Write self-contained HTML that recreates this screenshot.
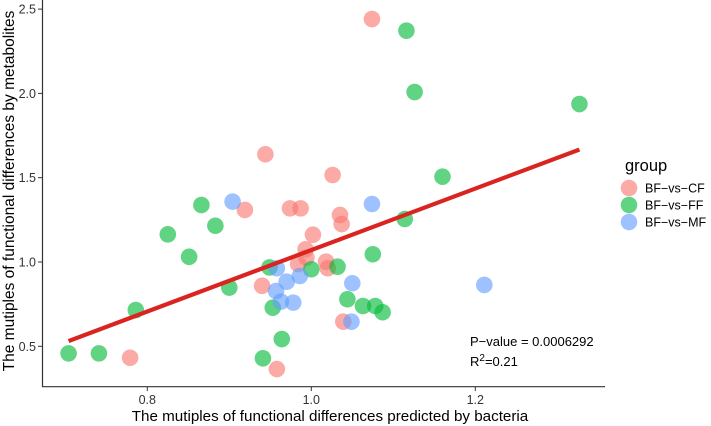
<!DOCTYPE html>
<html><head><meta charset="utf-8"><style>
body{margin:0;background:#fff}
svg{display:block;font-family:"Liberation Sans",Arial,sans-serif}
</style></head><body>
<svg width="711" height="426" viewBox="0 0 711 426">
<g id="points"></g>
<g id="fit"></g>
<line x1="42.5" y1="0" x2="42.5" y2="387" stroke="#333" stroke-width="1.2"/>
<line x1="42" y1="386.7" x2="605" y2="386.7" stroke="#333" stroke-width="1.2"/>
<g id="xticks"></g>
<g id="yticks"></g>
<text x="330" y="421" font-size="15.2" text-anchor="middle" fill="#000">The mutiples of functional differences predicted by bacteria</text>
<text transform="translate(14,191) rotate(-90)" font-size="15.5" text-anchor="middle" fill="#000">The mutiples of functional differences by metabolites</text>
<text x="470" y="346" font-size="13" fill="#000">P−value = 0.0006292</text>
<text x="470" y="366" font-size="13" fill="#000">R<tspan dy="-5" font-size="10">2</tspan><tspan dy="5">=0.21</tspan></text>
<g>
<text x="625" y="171" font-size="16.5" fill="#000">group</text>
<g id="legend-items"></g>
</g>
</svg>
<script>
const groups=["BF-vs-CF","BF-vs-FF","BF-vs-MF"];
const colors=["#F8766D","#00BA38","#619CFF"];
const cfX=[0.944,1.026,0.919,0.974,0.987,1.035,1.037,1.002,0.993,0.994,0.984,1.018,1.020,0.940,1.039,0.779,0.958,1.074];
const cfY=[1.639,1.516,1.309,1.318,1.318,1.279,1.225,1.162,1.075,1.026,0.988,1.002,0.963,0.859,0.646,0.432,0.365,2.441];
const ffX=[0.704,0.741,0.786,0.825,0.851,0.866,0.883,0.900,0.949,0.953,0.941,0.964,1.000,1.032,1.044,1.063,1.078,1.087,1.075,1.114,1.160,1.126,1.116,1.327];
const ffY=[0.458,0.458,0.715,1.164,1.031,1.338,1.215,0.848,0.968,0.729,0.429,0.543,0.957,0.972,0.779,0.739,0.739,0.702,1.046,1.255,1.506,2.008,2.372,1.937];
const mfX=[0.904,0.958,0.957,0.970,0.986,0.963,0.978,1.050,1.049,1.074,1.211];
const mfY=[1.358,0.963,0.828,0.883,0.917,0.765,0.759,0.874,0.646,1.344,0.864];
const xTicks=[0.8,1.0,1.2];
const yTicks=[0.5,1.0,1.5,2.0,2.5];
const NS="http://www.w3.org/2000/svg";
const sx=v=>311.3+(v-1.0)*820;
const sy=v=>262-(v-1.0)*168.6;
function mk(t,a,p){const e=document.createElementNS(NS,t);for(const k in a)e.setAttribute(k,a[k]);p.appendChild(e);return e;}
const series=[[cfX,cfY],[ffX,ffY],[mfX,mfY]];
const pg=document.getElementById('points');
series.forEach((s,gi)=>{s[0].forEach((x,i)=>{
 const c=mk('circle',{cx:sx(x),cy:sy(s[1][i]),r:8.3,fill:colors[gi],'fill-opacity':0.62},pg);
 
 
});});
const ax=[].concat(cfX,ffX,mfX), ay=[].concat(cfY,ffY,mfY);
const n=ax.length, mx=ax.reduce((a,b)=>a+b)/n, my=ay.reduce((a,b)=>a+b)/n;
let sxy=0,sxx=0;ax.forEach((x,i)=>{sxy+=(x-mx)*(ay[i]-my);sxx+=(x-mx)*(x-mx);});
const b=sxy/sxx,a0=my-b*mx, x0=Math.min(...ax), x1=Math.max(...ax);
const ln=mk('line',{x1:sx(x0),y1:sy(a0+b*x0),x2:sx(x1),y2:sy(a0+b*x1),stroke:"#DA2420","stroke-width":4.2},document.getElementById('fit'));


const xg=document.getElementById('xticks');
xTicks.forEach(v=>{
 const t=mk('line',{x1:sx(v),x2:sx(v),y1:386.7,y2:391,stroke:"#333"},xg);
 
 
 const l=mk('text',{x:sx(v),y:404,'font-size':12.5,'text-anchor':'middle',fill:'#333'},xg);l.textContent=v.toFixed(1);
 
 
});
const yg=document.getElementById('yticks');
yTicks.forEach(v=>{
 const t=mk('line',{x1:38,x2:42.5,y1:sy(v),y2:sy(v),stroke:"#333"},yg);
 
 
 const l=mk('text',{x:36,y:sy(v)+4.5,'font-size':12.5,'text-anchor':'end',fill:'#333'},yg);l.textContent=v.toFixed(1);
 
 
});
const lg=document.getElementById('legend-items');
groups.forEach((g,i)=>{
 const y=188+i*17;
 const c=mk('circle',{cx:629,cy:y,r:8.3,fill:colors[i],'fill-opacity':0.62},lg);
 
 
 const t=mk('text',{x:645,y:y+4.5,'font-size':12.5,fill:'#000'},lg);t.textContent=g.replace(/-/g,'−');
 
 
});
</script>
</body></html>
